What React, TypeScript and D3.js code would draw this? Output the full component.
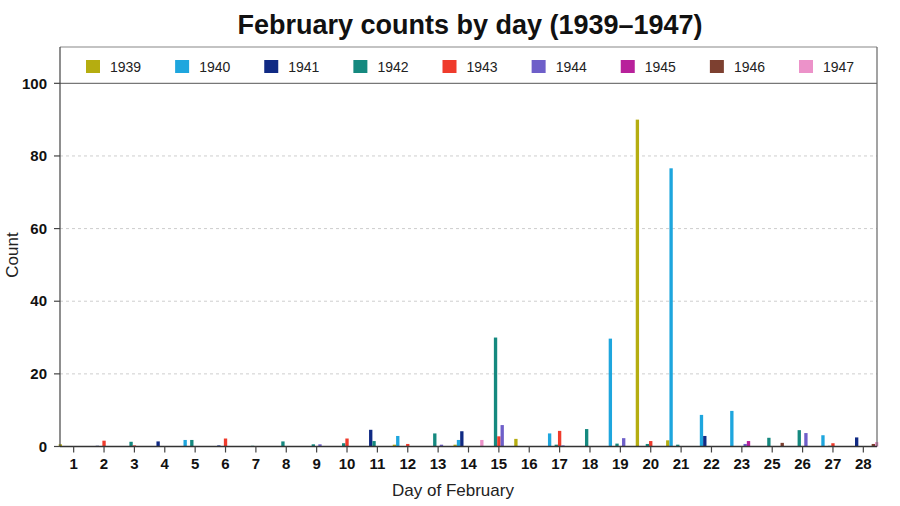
import React from "react";
import * as d3 from "d3";

const days = ["1","2","3","4","5","6","7","8","9","10","11","12","13","14","15","16","17","18","19","20","21","22","23","25","26","27","28"];
const years = ["1939","1940","1941","1942","1943","1944","1945","1946","1947"];
const colors = ["#b5ad10","#1ea6de","#102a84","#15897f","#ef3b2c","#6e5fc9","#b8219b","#7d4030","#ec92c9"];

// values per year, one per day in `days`
const v1939 = [0.6,0,0,0,0,0,0,0,0,0,0,0.5,0,0.5,0,2.1,0,0,0,90,1.7,0,0,0,0,0,0];
const v1940 = [0,0,0,0,1.8,0,0,0,0,0,0,2.9,0,1.8,0,0,3.6,0,29.7,0,76.6,8.7,9.8,0,0,3.1,0];
const v1941 = [0,0.2,0,1.4,0,0.3,0,0,0,0,4.6,0,0,4.2,0,0,0,0,0,0,0,2.9,0,0,0,0,2.5];
const v1942 = [0,0,1.3,0,1.8,0,0.2,1.4,0.6,0.9,1.5,0,3.6,0,30,0,0.5,4.8,0.8,0.7,0.5,0,0,2.4,4.5,0.2,0];
const v1943 = [0,1.6,0.3,0,0,2.2,0,0,0,2.2,0,0.7,0,0,2.8,0,4.3,0,0,1.5,0,0,0,0,0,0.9,0];
const v1944 = [0,0,0,0,0,0,0,0,0.6,0,0,0,0.5,0,5.9,0,0.3,0,2.3,0,0,0,0.7,0,3.7,0,0];
const v1945 = [0,0,0,0,0,0,0,0,0,0,0,0,0,0,0,0,0,0,0,0,0,0,1.5,0,0,0,0];
const v1946 = [0,0,0,0,0,0,0,0,0,0,0,0,0,0,0,0,0,0,0,0,0,0,0,1.0,0,0,0.7];
const v1947 = [0,0,0,0,0,0,0,0,0,0,0,0,0,1.8,0,0,0,0,0,0,0,0,0,0,0,0,1.2];
const series = [v1939,v1940,v1941,v1942,v1943,v1944,v1945,v1946,v1947];
const yTicks = [0,20,40,60,80,100];

const W = 900, H = 506;
const left = 60, right = 877, top = 47, bottom = 446.5;
const font = "'Liberation Sans', Arial, Helvetica, sans-serif";

export default function App() {
  const x = d3.scalePoint<string>().domain(days).range([left, right]).padding(0.45);
  const y = d3.scaleLinear().domain([0, 110]).range([bottom, top]);
  const color = d3.scaleOrdinal<string, string>().domain(years).range(colors);
  const inner = d3.scaleBand<string>().domain(years).range([-15, 15]).paddingInner(0);

  const bars: { key: string; x: number; y: number; h: number; c: string; w: number }[] = [];
  days.forEach((d, i) => {
    years.forEach((yr, k) => {
      const val = series[k][i];
      if (val <= 0) return;
      bars.push({
        key: d + "-" + yr,
        x: (x(d) as number) + (inner(yr) as number),
        y: y(val),
        h: y(0) - y(val),
        c: color(yr),
        w: inner.bandwidth(),
      });
    });
  });

  const legendX = d3.scalePoint<string>().domain(years).range([86, 799]);

  return (
    <svg width={W} height={H} style={{ position: "absolute", left: 0, top: 0, background: "#fff" }} fontFamily={font}>
      <rect x={0} y={0} width={W} height={H} fill="#fff" />
      <text x={470} y={34} textAnchor="middle" fontSize={27} fontWeight="bold" fill="#111">
        February counts by day (1939–1947)
      </text>
      {yTicks.filter((t) => t > 0 && t < 100).map((t) => (
        <line key={"g" + t} x1={left} x2={right} y1={y(t)} y2={y(t)} stroke="#c8c8c8" strokeDasharray="3,3" strokeWidth={0.9} />
      ))}
      <line x1={left} x2={right} y1={y(100)} y2={y(100)} stroke="#777" strokeWidth={1.2} />
      {bars.map((b) => (
        <rect key={b.key} x={b.x} y={b.y} width={b.w} height={Math.max(b.h, 0.6)} fill={b.c} />
      ))}
      {/* frame */}
      <line x1={left} x2={right} y1={top} y2={top} stroke="#888" strokeWidth={1.2} />
      <line x1={right} x2={right} y1={top} y2={bottom} stroke="#666" strokeWidth={1.2} />
      <line x1={left} x2={left} y1={top} y2={bottom} stroke="#444" strokeWidth={1.2} />
      <line x1={left} x2={right} y1={bottom} y2={bottom} stroke="#333" strokeWidth={1.3} />
      {/* y ticks */}
      {yTicks.map((t) => (
        <g key={"y" + t}>
          <line x1={left - 6} x2={left} y1={y(t)} y2={y(t)} stroke="#444" strokeWidth={1.2} />
          <text x={left - 13} y={y(t)} dy="0.35em" textAnchor="end" fontSize={15} fontWeight="bold" fill="#111">{t}</text>
        </g>
      ))}
      {/* x ticks */}
      {days.map((d) => (
        <g key={"x" + d}>
          <line x1={x(d)} x2={x(d)} y1={bottom} y2={bottom + 6} stroke="#444" strokeWidth={1.2} />
          <text x={x(d)} y={bottom + 22} textAnchor="middle" fontSize={15} fontWeight="bold" fill="#111">{d}</text>
        </g>
      ))}
      <text x={453} y={496} textAnchor="middle" fontSize={17} fill="#222">Day of February</text>
      <text transform="translate(18,255) rotate(-90)" textAnchor="middle" fontSize={17} fill="#222">Count</text>
      {/* legend */}
      {years.map((yr) => (
        <g key={"l" + yr} transform={`translate(${legendX(yr)},60)`}>
          <rect x={0} y={0} width={14} height={13} fill={color(yr)} />
          <text x={24} y={7} dy="0.35em" fontSize={14} fill="#222">{yr}</text>
        </g>
      ))}
    </svg>
  );
}
